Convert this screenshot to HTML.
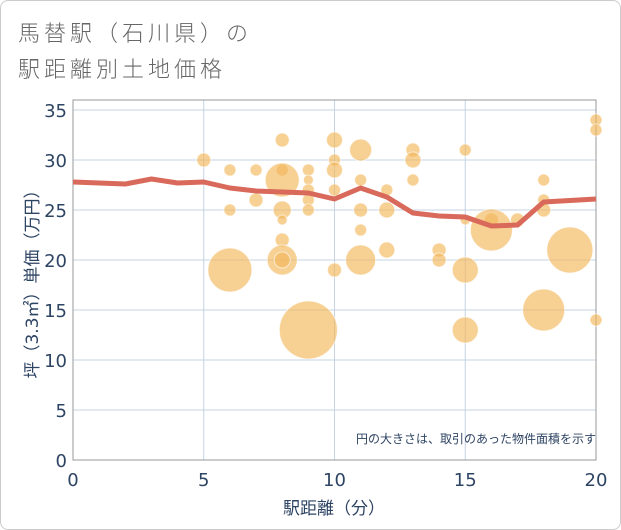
<!DOCTYPE html>
<html><head><meta charset="utf-8"><style>
body{margin:0;background:#fff;font-family:"DejaVu Sans","Noto Sans CJK JP",sans-serif;}
#wrap{position:relative;width:619px;height:528px;border:1px solid #ccc;border-radius:8px;overflow:hidden;}
.t{position:absolute;left:17px;color:#666;font-size:22px;letter-spacing:4px;font-family:"Noto Sans CJK JP",sans-serif;font-weight:300;}
</style></head><body>
<div id="wrap">
<div class="t" style="top:15px">馬替駅（石川県）の</div>
<div class="t" style="top:51px">駅距離別土地価格</div>
<svg id="c" width="621" height="530" style="position:absolute;left:-1px;top:-1px"></svg>
</div>
<script>
const bx=[5,6,6,6,7,7,8,8,8,8,8,8,8,8,9,9,9,9,9,9,10,10,10,10,10,11,11,11,11,11,12,12,12,13,13,13,14,14,15,15,15,15,16,16,17,18,18,18,18,19,20,20,20];
const by=[30,29,25,19,29,26,32,29,28,25,24,22,20,20,29,28,27,26,25,13,32,30,29,27,19,31,28,25,23,20,27,25,21,31,30,28,21,20,31,24,19,13,24,23,24,28,26,25,15,21,34,33,14];
const br=[7,6,6,22,6,7,7,6,17,9,5,7,15,8,6,5,6,6,6,29,8,6,8,6,7,11,6,7,6,15,6,8,8,7,8,6,7,7,6,5,13,13,7,21,7,6,6,7,21,23,6,6,6];
const lx=[0,2,3,4,5,6,7,8,9,10,11,12,13,14,15,16,17,18,20];
const ly=[27.8,27.6,28.1,27.7,27.8,27.2,26.9,26.8,26.7,26.1,27.2,26.3,24.7,24.4,24.3,23.4,23.5,25.8,26.1];
const xt=[0,5,10,15,20], yt=[0,5,10,15,20,25,30,35];
const X=v=>73+v*26.15, Y=v=>460-v*10;
const s=document.getElementById('c'),NS='http://www.w3.org/2000/svg';
const TC='#2e4463';
function mk(t,a,p){const e=document.createElementNS(NS,t);for(const k in a)e.setAttribute(k,a[k]);(p||s).appendChild(e);return e;}
const g=mk('g',{});

for(const v of yt){const l=mk('line',{x1:73,x2:596,y1:Y(v),y2:Y(v),stroke:'#c5d3e3','stroke-width':1},g);

const t=mk('text',{x:67,y:Y(v)+7,'text-anchor':'end','font-size':18,fill:TC});t.textContent=v;
}
for(const v of xt){const l=mk('line',{x1:X(v),x2:X(v),y1:100,y2:460,stroke:'#c5d3e3','stroke-width':1},g);

const t=mk('text',{x:X(v),y:486,'text-anchor':'middle','font-size':18,fill:TC});t.textContent=v;
}
const fr=mk('rect',{x:73,y:100,width:523,height:360,fill:'none',stroke:'#999','stroke-width':1});

for(let i=0;i<bx.length;i++){const c=mk('circle',{cx:X(bx[i]),cy:Y(by[i]),r:br[i],fill:'rgba(242,183,90,0.65)',stroke:'rgba(255,255,255,0.6)','stroke-width':1});
}
const p=mk('polyline',{points:lx.map((v,i)=>X(v)+','+Y(ly[i])).join(' '),fill:'none',stroke:'#d9695a','stroke-width':5,'stroke-linejoin':'round'});

const n=mk('text',{x:596,y:443,'text-anchor':'end','font-size':12,fill:TC});n.textContent='円の大きさは、取引のあった物件面積を示す';

const xa=mk('text',{x:334,y:514,'text-anchor':'middle','font-size':17,fill:TC});xa.textContent='駅距離（分）';

const ya=mk('text',{x:0,y:0,'text-anchor':'middle','font-size':17,fill:TC,transform:'translate(38,280) rotate(-90)'});ya.textContent='坪（3.3㎡）単価（万円）';

</script>
</body></html>
